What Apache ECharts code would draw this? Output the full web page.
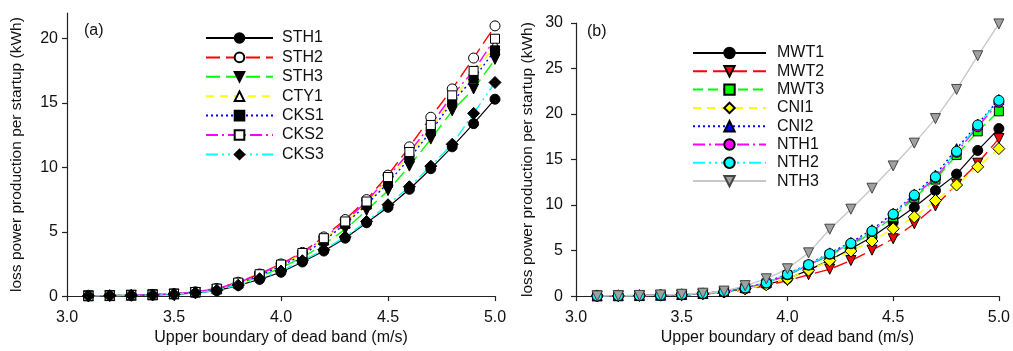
<!DOCTYPE html>
<html>
<head>
<meta charset="utf-8">
<script src="https://cdn.jsdelivr.net/npm/echarts@6/dist/echarts.min.js"></script>
<style>
html,body{margin:0;padding:0;background:#fff;}
#c{width:1013px;height:351px;}
</style>
</head>
<body>
<div id="c"></div>
<script>
// ---------- DATA ----------
const windSpeeds = [3.1,3.2,3.3,3.4,3.5,3.6,3.7,3.8,3.9,4.0,4.1,4.2,4.3,4.4,4.5,4.6,4.7,4.8,4.9,5.0];
const xTicks = [3.0,3.5,4.0,4.5,5.0];
const yTicksA = [0,5,10,15,20];
const yTicksB = [0,5,10,15,20,25,30];

// Panel (a)
const STH1 = [0.02,0.04,0.06,0.09,0.14,0.25,0.42,0.82,1.3,1.85,2.65,3.5,4.5,5.7,6.9,8.3,9.9,11.6,13.4,15.3];
const STH2 = [0.02,0.04,0.07,0.11,0.18,0.33,0.6,1.08,1.72,2.5,3.4,4.6,5.95,7.5,9.4,11.6,13.9,16.1,18.5,21.0];
const STH3 = [0.02,0.04,0.07,0.1,0.16,0.28,0.52,0.95,1.5,2.2,3.0,4.0,5.2,6.65,8.2,10.1,12.2,14.4,16.1,18.4];
const CTY1 = [0.02,0.04,0.07,0.1,0.17,0.31,0.57,1.02,1.65,2.4,3.3,4.4,5.7,7.2,9.0,11.0,13.0,15.3,17.2,19.5];
const CKS1 = [0.02,0.04,0.07,0.1,0.17,0.3,0.55,1.0,1.6,2.35,3.2,4.3,5.6,7.1,8.8,10.7,12.8,15.1,16.9,19.1];
const CKS2 = [0.02,0.04,0.07,0.11,0.18,0.32,0.58,1.05,1.7,2.45,3.35,4.5,5.8,7.35,9.25,11.2,13.3,15.6,17.5,20.0];
const CKS3 = [0.02,0.04,0.06,0.09,0.14,0.26,0.45,0.85,1.35,1.95,2.75,3.6,4.6,5.8,7.1,8.5,10.1,11.8,14.2,16.6];

// Panel (b)
const MWT1 = [0.02,0.04,0.06,0.1,0.15,0.25,0.45,0.8,1.25,1.9,2.85,3.95,5.2,6.5,8.1,9.75,11.6,13.4,16.0,18.4];
const MWT2 = [0.02,0.03,0.05,0.08,0.12,0.2,0.38,0.7,1.15,1.7,2.35,2.95,3.9,5.05,6.3,7.95,9.9,12.3,14.6,17.3];
const MWT3 = [0.02,0.04,0.06,0.1,0.16,0.27,0.48,0.88,1.4,2.3,3.35,4.5,5.6,6.95,8.7,10.8,12.8,15.5,18.1,20.3];
const CNI1 = [0.02,0.04,0.06,0.1,0.15,0.25,0.45,0.8,1.25,1.9,2.85,3.9,4.95,6.05,7.4,8.7,10.5,12.2,14.2,16.2];
const CNI2 = [0.02,0.04,0.06,0.1,0.17,0.29,0.52,0.93,1.5,2.45,3.5,4.75,5.9,7.3,9.1,11.2,13.3,16.2,18.9,21.6];
const NTH1 = [0.02,0.04,0.06,0.1,0.17,0.28,0.5,0.9,1.45,2.35,3.4,4.6,5.75,7.1,8.95,11.0,13.0,15.8,18.6,21.3];
const NTH2 = [0.02,0.04,0.06,0.1,0.17,0.28,0.5,0.9,1.45,2.4,3.45,4.65,5.8,7.15,9.0,11.1,13.1,15.9,18.8,21.5];
const NTH3 = [0.02,0.04,0.07,0.12,0.2,0.32,0.55,1.15,1.9,3.0,4.75,7.35,9.55,11.85,14.3,16.8,19.5,22.7,26.4,29.9];

// ---------- STYLES ----------
const FONT = 'Liberation Sans, Arial, sans-serif';
const DOWN_TRI = 'path://M0,0 L10,0 L5,9 Z';
const pairs = arr => windSpeeds.map((x,i)=>[x,arr[i]]);

function mk(name, data, idx, color, dash, symbol, size, fill, border, width){
  return {
    name, type:'line', xAxisIndex:idx, yAxisIndex:idx,
    data: pairs(data),
    symbol, symbolSize:size,
    lineStyle:{color, width: width||1.4, type:dash},
    itemStyle:{color:fill, borderColor:border, borderWidth:1},
    emphasis:{disabled:true},
    animation:false
  };
}

const seriesA = [
  mk('STH1', STH1, 0, '#000000', 'solid', 'circle', 10, '#000', '#000', 1.2),
  mk('STH2', STH2, 0, '#ff0000', [14,6], 'circle', 10, '#fff', '#000'),
  mk('STH3', STH3, 0, '#00ff00', [14,6], DOWN_TRI, 10, '#000', '#000'),
  mk('CTY1', CTY1, 0, '#ffff00', [8,6], 'triangle', 10, '#fff', '#000'),
  mk('CKS1', CKS1, 0, '#0000ff', [2,3], 'rect', 9, '#000', '#000'),
  mk('CKS2', CKS2, 0, '#ff00ff', [12,4,2,4], 'rect', 9, '#fff', '#000'),
  mk('CKS3', CKS3, 0, '#00ffff', [12,4,2,4,2,4], 'diamond', 12, '#000', '#000')
];
const seriesB = [
  mk('MWT1', MWT1, 1, '#000000', 'solid', 'circle', 10, '#000', '#000', 1.2),
  mk('MWT2', MWT2, 1, '#ff0000', [14,6], DOWN_TRI, 10, '#ff0000', '#000'),
  mk('MWT3', MWT3, 1, '#00ff00', [10,5], 'rect', 9, '#00ff00', '#000'),
  mk('CNI1', CNI1, 1, '#ffff00', [8,6], 'diamond', 12, '#ffff00', '#000'),
  mk('CNI2', CNI2, 1, '#0000ff', [2,3], 'triangle', 10, '#0000ff', '#000'),
  mk('NTH1', NTH1, 1, '#ff00ff', [12,4,2,4], 'circle', 10, '#ff00ff', '#000'),
  mk('NTH2', NTH2, 1, '#00ffff', [12,4,2,4,2,4], 'circle', 10, '#00ffff', '#000'),
  mk('NTH3', NTH3, 1, '#c8c8c8', 'solid', DOWN_TRI, 10, '#a0a0a0', '#444', 1.4)
];

function xAxis(idx){
  return {
    type:'value', gridIndex:idx, min:3.0, max:5.0, interval:0.5,
    name:'Upper boundary of dead band (m/s)', nameLocation:'middle', nameGap:33,
    nameTextStyle:{fontFamily:FONT, fontSize:16, color:'#111'},
    axisLine:{show:true, onZero:false, lineStyle:{color:'#222', width:1.2}},
    axisTick:{show:true, length:5, inside:false, lineStyle:{color:'#222', width:1.2}, customValues:xTicks},
    axisLabel:{fontFamily:FONT, fontSize:16, color:'#111', margin:13, customValues:xTicks, formatter:v=>Number(v).toFixed(1)},
    splitLine:{show:false}
  };
}
function yAxis(idx, max, ticks, gap, margin){
  return {
    type:'value', gridIndex:idx, min:0, max:max, interval:5,
    name:'loss power production per startup (kWh)', nameLocation:'middle', nameGap:gap, nameRotate:90,
    nameTextStyle:{fontFamily:FONT, fontSize:15.5, color:'#111'},
    axisLine:{show:true, lineStyle:{color:'#222', width:1.2}},
    axisTick:{show:true, length:5, lineStyle:{color:'#222', width:1.2}, customValues:ticks},
    axisLabel:{fontFamily:FONT, fontSize:16, color:'#111', margin:margin, customValues:ticks},
    splitLine:{show:false}
  };
}

const option = {
  backgroundColor:'#fff',
  animation:false,
  title:[
    {text:'(a)', left:79, top:18, textStyle:{fontFamily:FONT, fontSize:16, fontWeight:'normal', color:'#111'}},
    {text:'(b)', left:582, top:19, textStyle:{fontFamily:FONT, fontSize:16, fontWeight:'normal', color:'#111'}}
  ],
  grid:[
    {left:67, right:518, top:13, bottom:51},
    {left:576, right:10, top:23, bottom:51}
  ],
  xAxis:[xAxis(0), xAxis(1)],
  yAxis:[yAxis(0, 22, yTicksA, 42, 9), yAxis(1, 30, yTicksB, 40, 13)],
  legend:[
    {data:seriesA.map(s=>s.name), orient:'vertical', left:200, top:25, itemWidth:67, itemHeight:12, itemGap:3.4,
     selectedMode:false, textStyle:{fontFamily:FONT, fontSize:16, color:'#111', lineHeight:16, padding:[0,0,0,4]}},
    {data:seriesB.map(s=>s.name), orient:'vertical', left:687, top:40, itemWidth:73, itemHeight:13, itemGap:2.3,
     selectedMode:false, textStyle:{fontFamily:FONT, fontSize:16, color:'#111', lineHeight:16, padding:[0,0,0,6]}}
  ],
  series: seriesA.concat(seriesB)
};

const chart = echarts.init(document.getElementById('c'), null, {renderer:'canvas'});
chart.setOption(option);
</script>
</body>
</html>
